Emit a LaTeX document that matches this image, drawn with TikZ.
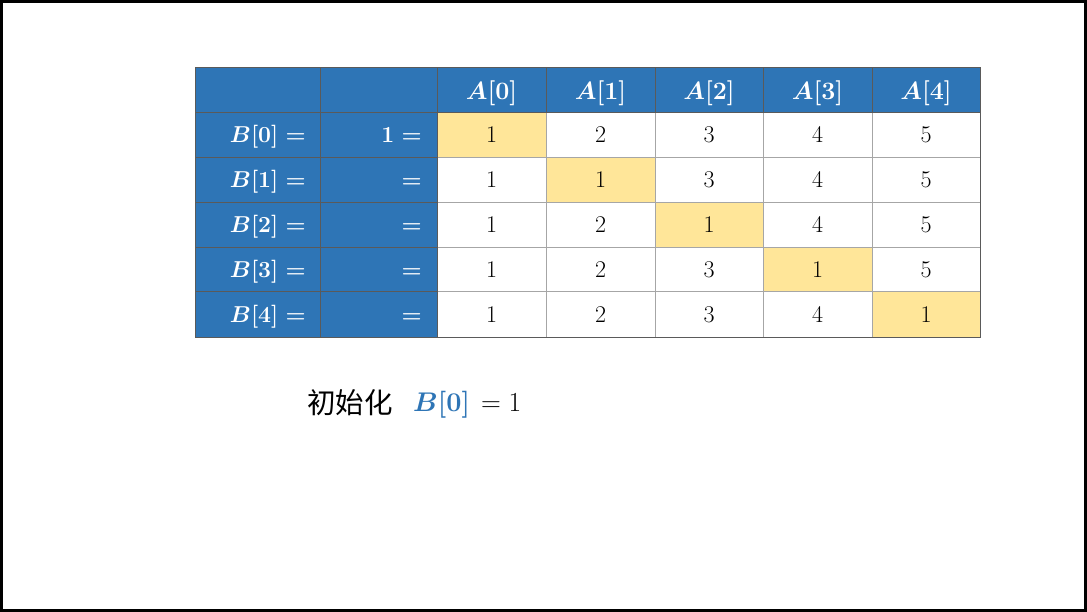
\documentclass[tikz,border=0pt]{standalone}
\usepackage{fix-cm}
\usepackage{amsmath}
\usepackage{fontspec}
\newfontfamily\cjk{Noto Sans CJK SC}
\definecolor{hblue}{HTML}{2E75B6}
\definecolor{hyel}{HTML}{FFE699}
\definecolor{gridg}{HTML}{A6A6A6}
\definecolor{gridd}{HTML}{5A5A5A}
\begin{document}
\begin{tikzpicture}[x=1pt,y=-1pt,
  num/.style={inner sep=0pt, anchor=base, font=\fontsize{24}{28}\selectfont},
  lbl/.style={inner sep=0pt, anchor=base east, text=white, font=\fontsize{23}{27}\selectfont\boldmath},
  hdr/.style={inner sep=0pt, anchor=base, text=white, font=\fontsize{25}{29}\selectfont\boldmath},
  thin grid/.style={draw=gridg, line width=1pt},
  dark grid/.style={draw=gridd, line width=1pt}]
\useasboundingbox (0,0) rectangle (1087,612);
\fill[white] (0,0) rectangle (1087,612);
\draw[line width=3pt] (1.5,1.5) rectangle (1085.5,610.5);
% fills
\fill[hblue] (195,68) rectangle (980,113);
\fill[hblue] (195,113) rectangle (437,337);
\foreach \r/\xl/\xr in {0/437/546,1/546/655,2/655/763,3/763/872,4/872/980}{
  \pgfmathsetmacro\yt{113+44.8*\r}
  \pgfmathsetmacro\yb{113+44.8*(\r+1)}
  \fill[hyel] (\xl,\yt) rectangle (\xr,\yb);
}
% grid in white area
\foreach \x in {546,655,763,872}{ \draw[thin grid] (\x,113) -- (\x,337); }
\foreach \y in {158,203,248,292}{ \draw[thin grid] (437,\y) -- (980,\y); }
% grid in blue area
\foreach \x in {546,655,763,872}{ \draw[dark grid] (\x,68) -- (\x,113); }
\foreach \x in {320,437}{ \draw[dark grid] (\x,68) -- (\x,337); }
\foreach \y in {158,203,248,292}{ \draw[dark grid] (195,\y) -- (437,\y); }
\draw[dark grid] (195,113) -- (980,113);
\draw[dark grid] (195,68) rectangle (980,337);
% header
\foreach \c/\xc in {0/491.5,1/600.5,2/709,3/817.5,4/926}{
  \node[hdr] (h\c) at (\xc,99.5) {$A[\c]$};
}
% rows
\foreach \r in {0,...,4}{
  \pgfmathsetmacro\yba{113+44.8*\r+30}
  \node[lbl] (b\r) at (306,\yba) {$B[\r]=$};
  \ifnum\r=0
    \node[lbl] (c\r) at (422,\yba) {$1=$};
  \else
    \node[lbl] (c\r) at (422,\yba) {$=$};
  \fi
  \foreach \c/\xc in {0/491.5,1/600.5,2/709,3/817.5,4/926}{
    \ifnum\c=\r \def\v{1}\else\pgfmathtruncatemacro\v{\c+1}\fi
    \node[num] (n\r\c) at (\xc,\yba) {$\v$};
  }
}
% caption
\node[inner sep=0pt, anchor=base west, font=\cjk\fontsize{28.5}{32}\selectfont] (init) at (307,413) {初始化};
\node[inner sep=0pt, anchor=base west, text=hblue, font=\fontsize{27}{31}\selectfont\boldmath] (bz) at (413,411) {$B[0]$};
\node[inner sep=0pt, anchor=base west, font=\fontsize{27.5}{31}\selectfont] (eq) at (481,411) {$=1$};
\end{tikzpicture}
\end{document}
